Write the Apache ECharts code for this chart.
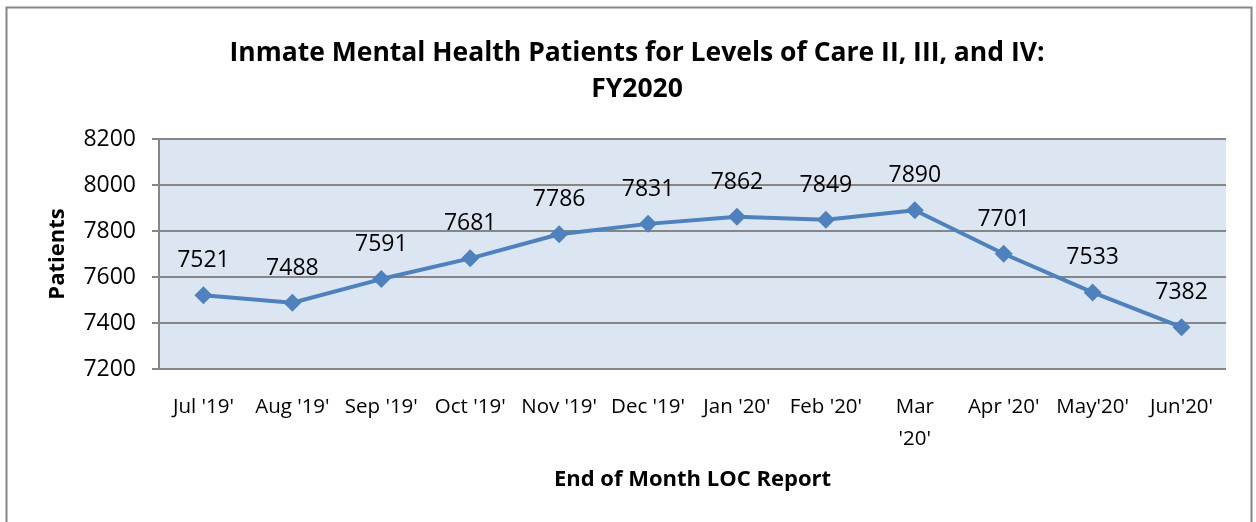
<!DOCTYPE html>
<html><head><meta charset="utf-8">
<script src="https://cdn.jsdelivr.net/npm/echarts@6/dist/echarts.min.js"></script>
<style>html,body{margin:0;padding:0;background:#fff}#c{width:1256px;height:522px}</style>
</head><body><div id="c"></div>
<script>
const categories = ["Jul '19'", "Aug '19'", "Sep '19'", "Oct '19'", "Nov '19'", "Dec '19'", "Jan '20'", "Feb '20'", "Mar\n'20'", "Apr '20'", "May'20'", "Jun'20'"];
const patients = [7521, 7488, 7591, 7681, 7786, 7831, 7862, 7849, 7890, 7701, 7533, 7382];
const yTicks = [7200, 7400, 7600, 7800, 8000, 8200];

const font = "'Open Sans', 'Noto Sans', sans-serif";
const chart = echarts.init(document.getElementById('c'));
chart.setOption({
  animation: false,
  backgroundColor: '#fff',
  graphic: [{
    type: 'rect', shape: {x: 6.5, y: 7.5, width: 1245, height: 520},
    style: {fill: 'none', stroke: '#868686', lineWidth: 2}
  }],
  title: {
    text: 'Inmate Mental Health Patients for Levels of Care II, III, and IV:\nFY2020',
    left: 632, top: 30, textAlign: 'center',
    textStyle: {fontFamily: font, fontSize: 26.5, fontWeight: 'bold', color: '#000', lineHeight: 36}
  },
  grid: {left: 159, right: 30, top: 139, bottom: 153, show: true, backgroundColor: '#dce6f2', borderWidth: 0},
  xAxis: {
    type: 'category', data: categories, boundaryGap: true,
    axisLine: {show: false}, axisTick: {show: false},
    axisLabel: {fontFamily: font, fontSize: 20.5, color: '#000', interval: 0, margin: 22, lineHeight: 32},
    name: 'End of Month LOC Report', nameLocation: 'middle', nameGap: 100,
    nameTextStyle: {fontFamily: font, fontSize: 22, fontWeight: 'bold', color: '#000'}
  },
  yAxis: {
    type: 'value', min: yTicks[0], max: yTicks[yTicks.length - 1], interval: 200,
    axisLine: {show: true, lineStyle: {color: '#868686', width: 2}},
    axisTick: {show: true, length: 7, lineStyle: {color: '#868686', width: 2}},
    splitLine: {show: true, lineStyle: {color: '#868686', width: 2}},
    axisLabel: {fontFamily: font, fontSize: 23, color: '#000', margin: 23, formatter: v => String(v)},
    name: 'Patients', nameLocation: 'middle', nameGap: 90, nameRotate: 90,
    nameTextStyle: {fontFamily: font, fontSize: 22, fontWeight: 'bold', color: '#000'}
  },
  series: [{
    type: 'line', data: patients,
    lineStyle: {color: '#4f81bd', width: 4},
    itemStyle: {color: '#4f81bd'},
    symbol: 'diamond', symbolSize: 18, showAllSymbol: true,
    label: {show: true, position: 'top', distance: 14, fontFamily: font, fontSize: 23, color: '#000'}
  }]
});
</script></body></html>
